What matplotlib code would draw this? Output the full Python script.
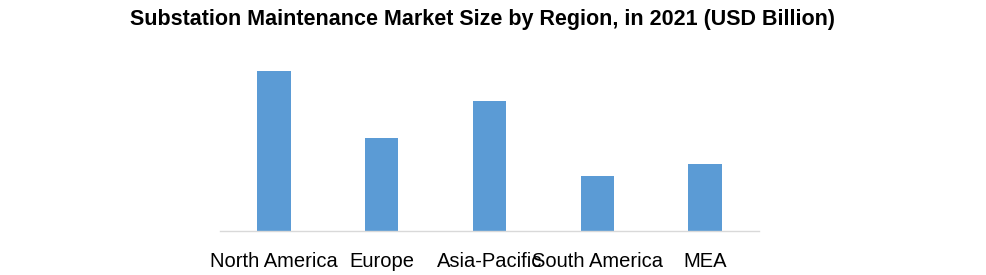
import matplotlib
matplotlib.use("Agg")
from matplotlib import pyplot as plt

# values (relative bar heights)
regions = ["North America", "Europe", "Asia-Pacific", "South America", "MEA"]
market_size = [4.8, 2.79, 3.91, 1.65, 2.0]

title = "Substation Maintenance Market Size by Region, in 2021 (USD Billion)"

plt.rcParams['font.family'] = ['Liberation Sans', 'DejaVu Sans']

figure = plt.figure(figsize=(9.86, 2.75), dpi=100)
axes = figure.add_axes([0.2231, 0.161, 0.5467, 0.6935])

axes.bar(range(len(regions)), market_size, width=0.31, color='#5b9bd5')
axes.set_xlim(-0.5, len(regions) - 0.5)
axes.set_ylim(0, 5.73)

axes.set_xticks(range(len(regions)))
axes.set_xticklabels(regions, fontsize=14.5)
axes.tick_params(axis='x', length=0, pad=15)
axes.set_yticks([])

for side in ['top', 'left', 'right']:
    axes.spines[side].set_visible(False)
axes.spines['bottom'].set_color('#d9d9d9')
axes.spines['bottom'].set_linewidth(1)

figure.text(0.489, 0.928, title, ha='center', va='center',
            fontsize=15.5, fontweight='bold')

figure.savefig("out.png", dpi=100)
